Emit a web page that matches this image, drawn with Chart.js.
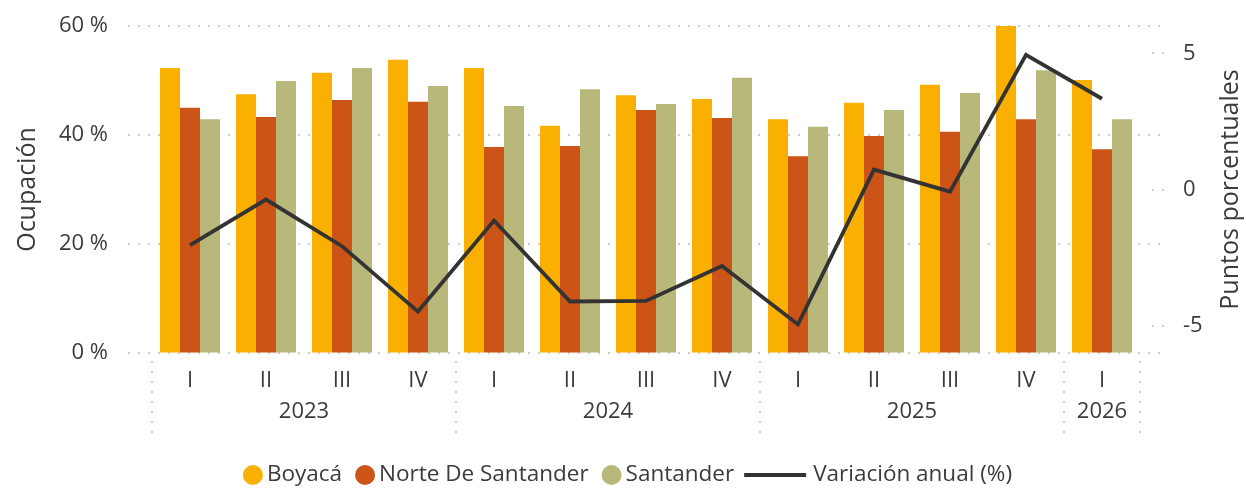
<!DOCTYPE html>
<html>
<head>
<meta charset="utf-8">
<script src="https://cdn.jsdelivr.net/npm/chart.js@4.4.1/dist/chart.umd.min.js"></script>
<style>
  html, body { margin: 0; padding: 0; background: #fff; }
  #wrap { width: 1246px; height: 488px; }
</style>
</head>
<body>
<div id="wrap"><canvas id="chart" width="1246" height="488"></canvas></div>
<script>
const quarters = ['I', 'II', 'III', 'IV', 'I', 'II', 'III', 'IV', 'I', 'II', 'III', 'IV', 'I'];
const years = ['2023', '2024', '2025', '2026'];
const yearSpans = [4, 4, 4, 1];

const boyaca = [52.3, 47.5, 51.4, 53.8, 52.3, 41.7, 47.3, 46.6, 42.9, 45.9, 49.2, 60.0, 50.1];
const norteDeSantander = [45.0, 43.3, 46.4, 46.1, 37.8, 38.0, 44.6, 43.1, 36.1, 39.8, 40.6, 42.9, 37.4];
const santander = [42.9, 49.9, 52.3, 49.0, 45.3, 48.4, 45.7, 50.5, 41.5, 44.6, 47.7, 51.9, 42.9];
const variacionAnual = [-2.04, -0.37, -2.08, -4.48, -1.14, -4.11, -4.09, -2.81, -4.95, 0.73, -0.08, 4.94, 3.33];

const leftTicks = [0, 20, 40, 60];
const rightTicks = [-5, 0, 5];

const textColor = '#3b3b3b';
const FONT = "'Open Sans', 'Noto Sans', sans-serif";
Chart.defaults.font.family = FONT;
Chart.defaults.color = textColor;

// grid, year row, right title and legend drawn on the canvas
const decor = {
    id: 'decor',
    beforeDatasetsDraw(chart) {
        const { ctx, chartArea, scales: { y, y1 } } = chart;
        ctx.save();
        ctx.strokeStyle = '#cdcdcd';
        ctx.lineWidth = 2;
        ctx.setLineDash([2, 8]);
        leftTicks.forEach(v => {
            const py = Math.round(y.getPixelForValue(v));
            ctx.beginPath();
            ctx.moveTo(chartArea.left - 24, py);
            ctx.lineTo(chartArea.right + 22, py);
            ctx.stroke();
        });
        rightTicks.forEach(v => {
            const py = Math.round(y1.getPixelForValue(v));
            ctx.beginPath();
            ctx.moveTo(chartArea.right + 12, py);
            ctx.lineTo(chartArea.right + 28, py);
            ctx.stroke();
        });
        ctx.restore();
    },
    afterDraw(chart) {
        const { ctx, chartArea, scales: { x } } = chart;
        const half = (x.getPixelForValue(1) - x.getPixelForValue(0)) / 2;
        ctx.save();

        // year separators and labels
        ctx.strokeStyle = '#cdcdcd';
        ctx.lineWidth = 2;
        ctx.setLineDash([2, 8]);
        ctx.font = '22px ' + FONT;
        ctx.fillStyle = textColor;
        ctx.textAlign = 'center';
        ctx.textBaseline = 'middle';
        let start = 0;
        const edges = [];
        years.forEach((yr, i) => {
            const end = start + yearSpans[i] - 1;
            edges.push(x.getPixelForValue(start) - half);
            const cx = (x.getPixelForValue(start) + x.getPixelForValue(end)) / 2;
            ctx.fillText(yr, cx, chartArea.bottom + 59);
            start = end + 1;
        });
        edges.push(x.getPixelForValue(start - 1) + half);
        edges.forEach(ex => {
            const px = Math.round(ex);
            ctx.beginPath();
            ctx.moveTo(px, chartArea.bottom + 8);
            ctx.lineTo(px, chartArea.bottom + 80);
            ctx.stroke();
        });
        ctx.setLineDash([]);

        // right axis title, reading bottom to top
        ctx.save();
        ctx.font = '25px ' + FONT;
        ctx.translate(1231, (chartArea.top + chartArea.bottom) / 2);
        ctx.rotate(-Math.PI / 2);
        ctx.fillText('Puntos porcentuales', 0, 0);
        ctx.restore();

        // legend
        ctx.font = '22.5px ' + FONT;
        ctx.textAlign = 'left';
        const items = chart.data.datasets.map(ds => ({
            text: ds.label,
            color: ds.type === 'line' ? ds.borderColor : ds.backgroundColor,
            line: ds.type === 'line'
        }));
        const markW = it => it.line ? 62 : 20;
        const gapIn = it => it.line ? 7 : 4;
        const gapOut = [13, 13, 10];
        let total = 0;
        items.forEach((it, i) => {
            total += markW(it) + gapIn(it) + ctx.measureText(it.text).width;
            if (i < items.length - 1) total += gapOut[i];
        });
        let lx = 627.5 - total / 2;
        const ly = 475;
        items.forEach((it, i) => {
            ctx.fillStyle = it.color;
            ctx.strokeStyle = it.color;
            if (it.line) {
                ctx.lineWidth = 4;
                ctx.beginPath();
                ctx.moveTo(lx, ly);
                ctx.lineTo(lx + 62, ly);
                ctx.stroke();
            } else {
                ctx.beginPath();
                ctx.arc(lx + 10, ly, 10, 0, Math.PI * 2);
                ctx.fill();
            }
            lx += markW(it) + gapIn(it);
            ctx.fillStyle = textColor;
            ctx.fillText(it.text, lx, ly);
            lx += ctx.measureText(it.text).width + (gapOut[i] || 0);
        });
        ctx.restore();
    }
};

const hiddenTicks = { display: true, drawOnChartArea: false, drawTicks: true, tickLength: 40, tickColor: 'rgba(0,0,0,0)' };

new Chart(document.getElementById('chart'), {
    type: 'bar',
    data: {
        labels: quarters,
        datasets: [
            { label: 'Boyacá', data: boyaca, backgroundColor: '#F9B000', order: 1 },
            { label: 'Norte De Santander', data: norteDeSantander, backgroundColor: '#CC5416', order: 1 },
            { label: 'Santander', data: santander, backgroundColor: '#B8B87A', order: 1 },
            {
                type: 'line', label: 'Variación anual (%)', data: variacionAnual, yAxisID: 'y1',
                borderColor: '#333333', borderWidth: 3.8, pointRadius: 0, tension: 0, order: 0
            }
        ]
    },
    options: {
        responsive: false,
        animation: false,
        devicePixelRatio: 1,
        layout: { padding: { top: 26, left: 0, right: 0, bottom: 0 } },
        datasets: { bar: { categoryPercentage: 0.79, barPercentage: 1.0 } },
        plugins: {
            legend: { display: false },
            tooltip: { enabled: false }
        },
        scales: {
            x: {
                offset: true,
                grid: { display: false },
                border: { display: false },
                ticks: { font: { size: 22 }, padding: 7, maxRotation: 0, autoSkip: false },
                afterFit(s) { s.height = 135; }
            },
            y: {
                position: 'left',
                min: 0, max: 60,
                afterBuildTicks(s) { s.ticks = leftTicks.map(v => ({ value: v })); },
                grid: hiddenTicks,
                border: { display: false },
                ticks: { font: { size: 22 }, padding: 4, callback: v => v + ' %' },
                title: { display: true, text: 'Ocupación', font: { size: 25 }, padding: { top: 13, bottom: 0 } },
                afterFit(s) { s.width = 152; }
            },
            y1: {
                position: 'right',
                min: -6, max: 6,
                afterBuildTicks(s) { s.ticks = rightTicks.map(v => ({ value: v })); },
                grid: hiddenTicks,
                border: { display: false },
                ticks: { font: { size: 22 }, padding: 3 },
                afterFit(s) { s.width = 106; }
            }
        }
    },
    plugins: [decor]
});
</script>
</body>
</html>
